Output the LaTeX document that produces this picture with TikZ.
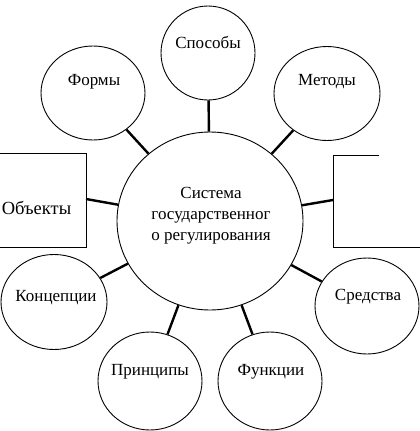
\documentclass[tikz,border=0pt]{standalone}
\usepackage{fontspec}
\setmainfont{Liberation Serif}
\usetikzlibrary{shapes.geometric}
\begin{document}
\begin{tikzpicture}[x=1pt,y=-1pt,
  bub/.style={draw,ellipse,line width=0.9pt,inner sep=0pt},
  link/.style={line width=2.4pt},
  frame/.style={line width=0.9pt},
  lbl/.style={inner sep=0pt,font=\fontsize{17}{21}\selectfont,align=center}]
\useasboundingbox (0,0) rectangle (420,431);
\clip (0,0) rectangle (420,431);
% central circle
\node[bub,minimum width=186pt,minimum height=178pt] (sys) at (210,221) {};
\node[lbl] (systxt) at (211,216) {Система\\государственног\\о регулирования};
% outer bubbles
\node[bub,minimum width=94pt,minimum height=94pt] (spos) at (208,53) {};
\node[lbl] at (208,42) {Способы};
\node[bub,minimum width=104pt,minimum height=94pt] (form) at (93,93) {};
\node[lbl] at (94,82) {Формы};
\node[bub,minimum width=106pt,minimum height=94pt] (meth) at (327,93.5) {};
\node[lbl] at (327,82) {Методы};
\node[bub,minimum width=106pt,minimum height=95pt] (conc) at (54,302) {};
\node[lbl] at (56,298) {Концепции};
\node[bub,minimum width=104pt,minimum height=96pt] (sred) at (367,306) {};
\node[lbl] at (368,297) {Средства};
\node[bub,minimum width=104pt,minimum height=98pt] (prin) at (150,381) {};
\node[lbl] at (150,372) {Принципы};
\node[bub,minimum width=104pt,minimum height=98pt] (func) at (270,381) {};
\node[lbl] at (271,372) {Функции};
% left box
\node[draw,frame,rectangle,minimum width=96pt,minimum height=94pt,inner sep=0pt] (obj) at (38,200) {};
\node[lbl,font=\fontsize{18.5}{22}\selectfont] at (36.5,208) {Объекты};
\coordinate (objpt) at (86,199);
% right open box
\draw[frame] (379,155) -- (333,155) -- (333,247) -- (421,247);
\coordinate (rpt) at (333,200);
% connectors
\draw[link] (sys) -- (spos);
\draw[link] (sys) -- (form);
\draw[link] (sys) -- (meth);
\draw[link] (sys) -- (conc);
\draw[link] (sys) -- (sred);
\draw[link] (sys) -- (prin);
\draw[link] (sys) -- (func);
\draw[link] (sys) -- (objpt);
\draw[link] (sys) -- (rpt);
\end{tikzpicture}
\end{document}
